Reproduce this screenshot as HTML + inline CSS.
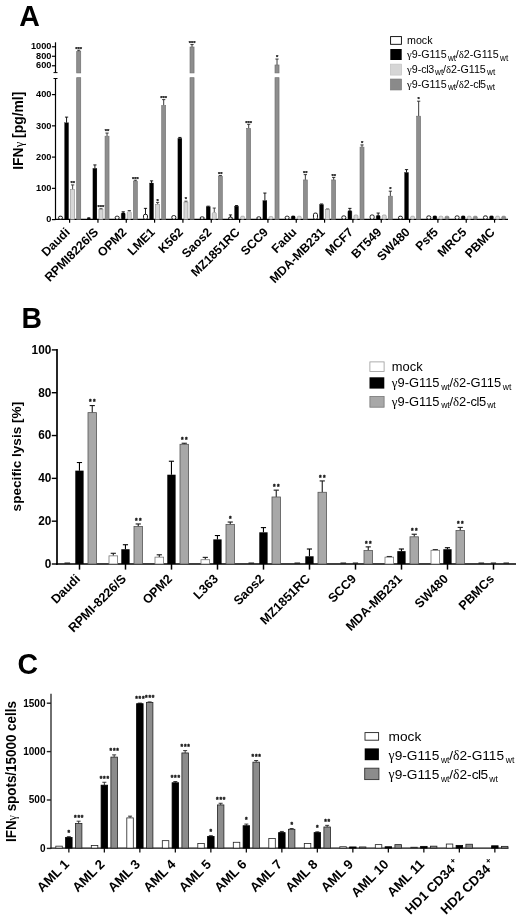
<!DOCTYPE html>
<html lang="en"><head><meta charset="utf-8"><title>Figure</title>
<style>
html,body{margin:0;padding:0;background:#fff;}
body{width:520px;height:920px;overflow:hidden;}
svg{display:block;font-family:"Liberation Sans", Arial, sans-serif;}
</style></head><body>
<svg width="520" height="920" viewBox="0 0 520 920">
<rect width="520" height="920" fill="#fff"/>
<text transform="translate(19.20,25.70) scale(0.97,1)" font-size="29.4" text-anchor="start" font-weight="bold" fill="#000" >A</text>
<text transform="translate(21.40,328.20) scale(0.97,1)" font-size="29.2" text-anchor="start" font-weight="bold" fill="#000" >B</text>
<text transform="translate(17.50,674.40) scale(0.97,1)" font-size="29.4" text-anchor="start" font-weight="bold" fill="#000" >C</text>
<line x1="55.50" y1="78.50" x2="55.50" y2="219.90" stroke="#000" stroke-width="1.2"/>
<line x1="55.50" y1="42.30" x2="55.50" y2="72.60" stroke="#000" stroke-width="1.2"/>
<line x1="53.50" y1="72.60" x2="57.50" y2="72.60" stroke="#000" stroke-width="1"/>
<line x1="53.50" y1="78.50" x2="57.50" y2="78.50" stroke="#000" stroke-width="1"/>
<line x1="54.90" y1="219.30" x2="508.00" y2="219.30" stroke="#000" stroke-width="1.2"/>
<line x1="51.90" y1="219.60" x2="55.50" y2="219.60" stroke="#000" stroke-width="1.2"/>
<text transform="translate(51.40,222.25) scale(0.97,1)" font-size="9.5" text-anchor="end" font-weight="bold" fill="#000" >0</text>
<line x1="51.90" y1="188.35" x2="55.50" y2="188.35" stroke="#000" stroke-width="1.2"/>
<text transform="translate(51.40,191.00) scale(0.97,1)" font-size="9.5" text-anchor="end" font-weight="bold" fill="#000" >100</text>
<line x1="51.90" y1="157.10" x2="55.50" y2="157.10" stroke="#000" stroke-width="1.2"/>
<text transform="translate(51.40,159.75) scale(0.97,1)" font-size="9.5" text-anchor="end" font-weight="bold" fill="#000" >200</text>
<line x1="51.90" y1="125.85" x2="55.50" y2="125.85" stroke="#000" stroke-width="1.2"/>
<text transform="translate(51.40,128.50) scale(0.97,1)" font-size="9.5" text-anchor="end" font-weight="bold" fill="#000" >300</text>
<line x1="51.90" y1="94.60" x2="55.50" y2="94.60" stroke="#000" stroke-width="1.2"/>
<text transform="translate(51.40,97.25) scale(0.97,1)" font-size="9.5" text-anchor="end" font-weight="bold" fill="#000" >400</text>
<line x1="51.90" y1="65.77" x2="55.50" y2="65.77" stroke="#000" stroke-width="1.2"/>
<text transform="translate(51.40,68.42) scale(0.97,1)" font-size="9.5" text-anchor="end" font-weight="bold" fill="#000" >600</text>
<line x1="51.90" y1="56.27" x2="55.50" y2="56.27" stroke="#000" stroke-width="1.2"/>
<text transform="translate(51.40,58.92) scale(0.97,1)" font-size="9.5" text-anchor="end" font-weight="bold" fill="#000" >800</text>
<line x1="51.90" y1="46.77" x2="55.50" y2="46.77" stroke="#000" stroke-width="1.2"/>
<text transform="translate(51.40,49.42) scale(0.97,1)" font-size="9.5" text-anchor="end" font-weight="bold" fill="#000" >1000</text>
<text transform="translate(22.60,130.70) rotate(-90)" font-size="13.9" text-anchor="middle" font-weight="bold" fill="#000" >IFN<tspan font-family='"Liberation Serif", serif' font-weight="normal" font-size="12.6">γ</tspan> [pg/ml]</text>
<line x1="69.61" y1="219.30" x2="69.61" y2="222.70" stroke="#000" stroke-width="1.2"/>
<rect x="58.50" y="216.18" width="4.0" height="3.12" rx="1.6" fill="#fff" stroke="#000" stroke-width="0.9"/>
<line x1="66.57" y1="122.74" x2="66.57" y2="117.11" stroke="#000" stroke-width="0.9"/>
<line x1="64.97" y1="117.11" x2="68.17" y2="117.11" stroke="#000" stroke-width="0.9"/>
<rect x="64.57" y="122.74" width="4.00" height="96.56" fill="#000" stroke="#000" stroke-width="0.25"/>
<line x1="72.64" y1="189.61" x2="72.64" y2="184.93" stroke="#333" stroke-width="0.9"/>
<line x1="71.04" y1="184.93" x2="74.24" y2="184.93" stroke="#333" stroke-width="0.9"/>
<rect x="70.64" y="189.61" width="4.00" height="29.69" fill="#d6d6d6" stroke="#8e8e8e" stroke-width="0.6"/>
<text transform="translate(72.64,185.23) " font-size="5.8" text-anchor="middle" font-weight="bold" fill="#111" stroke="#111" stroke-width="0.25">**</text>
<line x1="78.71" y1="51.37" x2="78.71" y2="50.23" stroke="#222" stroke-width="0.9"/>
<line x1="77.11" y1="50.23" x2="80.31" y2="50.23" stroke="#222" stroke-width="0.9"/>
<rect x="76.71" y="77.70" width="4.00" height="141.60" fill="#8e8e8e" stroke="#707070" stroke-width="0.7"/>
<rect x="76.71" y="51.37" width="4.00" height="21.53" fill="#8e8e8e" stroke="#707070" stroke-width="0.7"/>
<text transform="translate(78.71,50.53) " font-size="5.8" text-anchor="middle" font-weight="bold" fill="#111" stroke="#111" stroke-width="0.25">***</text>
<text transform="translate(70.61,232.90) rotate(-45)" font-size="12.3" text-anchor="end" font-weight="bold" fill="#000" >Daudi</text>
<line x1="97.94" y1="219.30" x2="97.94" y2="222.70" stroke="#000" stroke-width="1.2"/>
<rect x="87.03" y="217.30" width="3.6" height="2.0" rx="1.2" fill="#111"/>
<line x1="94.90" y1="168.36" x2="94.90" y2="164.93" stroke="#000" stroke-width="0.9"/>
<line x1="93.30" y1="164.93" x2="96.50" y2="164.93" stroke="#000" stroke-width="0.9"/>
<rect x="92.90" y="168.36" width="4.00" height="50.94" fill="#000" stroke="#000" stroke-width="0.25"/>
<line x1="100.97" y1="209.61" x2="100.97" y2="208.68" stroke="#333" stroke-width="0.9"/>
<line x1="99.37" y1="208.68" x2="102.57" y2="208.68" stroke="#333" stroke-width="0.9"/>
<rect x="98.97" y="209.61" width="4.00" height="9.69" fill="#d6d6d6" stroke="#8e8e8e" stroke-width="0.6"/>
<text transform="translate(100.97,208.98) " font-size="5.8" text-anchor="middle" font-weight="bold" fill="#111" stroke="#111" stroke-width="0.25">***</text>
<line x1="107.04" y1="136.18" x2="107.04" y2="133.05" stroke="#222" stroke-width="0.9"/>
<line x1="105.44" y1="133.05" x2="108.64" y2="133.05" stroke="#222" stroke-width="0.9"/>
<rect x="105.04" y="136.18" width="4.00" height="83.12" fill="#8e8e8e" stroke="#707070" stroke-width="0.6"/>
<text transform="translate(107.04,133.35) " font-size="5.8" text-anchor="middle" font-weight="bold" fill="#111" stroke="#111" stroke-width="0.25">**</text>
<text transform="translate(98.94,232.90) rotate(-45)" font-size="12.3" text-anchor="end" font-weight="bold" fill="#000" >RPMI8226/S</text>
<line x1="126.27" y1="219.30" x2="126.27" y2="222.70" stroke="#000" stroke-width="1.2"/>
<rect x="115.16" y="216.18" width="4.0" height="3.12" rx="1.6" fill="#fff" stroke="#000" stroke-width="0.9"/>
<line x1="123.23" y1="212.74" x2="123.23" y2="211.80" stroke="#000" stroke-width="0.9"/>
<line x1="121.63" y1="211.80" x2="124.83" y2="211.80" stroke="#000" stroke-width="0.9"/>
<rect x="121.23" y="212.74" width="4.0" height="6.56" rx="1.3" fill="#000" stroke="#000" stroke-width="0.25"/>
<line x1="129.30" y1="211.49" x2="129.30" y2="210.55" stroke="#333" stroke-width="0.9"/>
<line x1="127.70" y1="210.55" x2="130.90" y2="210.55" stroke="#333" stroke-width="0.9"/>
<rect x="127.30" y="211.49" width="4.0" height="7.81" rx="1.3" fill="#d6d6d6" stroke="#8e8e8e" stroke-width="0.6"/>
<line x1="135.37" y1="181.18" x2="135.37" y2="180.24" stroke="#222" stroke-width="0.9"/>
<line x1="133.77" y1="180.24" x2="136.97" y2="180.24" stroke="#222" stroke-width="0.9"/>
<rect x="133.37" y="181.18" width="4.00" height="38.12" fill="#8e8e8e" stroke="#707070" stroke-width="0.6"/>
<text transform="translate(135.37,180.54) " font-size="5.8" text-anchor="middle" font-weight="bold" fill="#111" stroke="#111" stroke-width="0.25">***</text>
<text transform="translate(127.27,232.90) rotate(-45)" font-size="12.3" text-anchor="end" font-weight="bold" fill="#000" >OPM2</text>
<line x1="154.59" y1="219.30" x2="154.59" y2="222.70" stroke="#000" stroke-width="1.2"/>
<line x1="145.49" y1="214.30" x2="145.49" y2="208.36" stroke="#000" stroke-width="0.9"/>
<line x1="143.89" y1="208.36" x2="147.09" y2="208.36" stroke="#000" stroke-width="0.9"/>
<rect x="143.49" y="214.30" width="4.0" height="5.00" rx="1.6" fill="#fff" stroke="#000" stroke-width="0.9"/>
<line x1="151.56" y1="183.05" x2="151.56" y2="180.86" stroke="#000" stroke-width="0.9"/>
<line x1="149.96" y1="180.86" x2="153.16" y2="180.86" stroke="#000" stroke-width="0.9"/>
<rect x="149.56" y="183.05" width="4.00" height="36.25" fill="#000" stroke="#000" stroke-width="0.25"/>
<line x1="157.63" y1="204.30" x2="157.63" y2="202.43" stroke="#333" stroke-width="0.9"/>
<line x1="156.03" y1="202.43" x2="159.23" y2="202.43" stroke="#333" stroke-width="0.9"/>
<rect x="155.63" y="204.30" width="4.00" height="15.00" fill="#d6d6d6" stroke="#8e8e8e" stroke-width="0.6"/>
<text transform="translate(157.63,202.73) " font-size="5.8" text-anchor="middle" font-weight="bold" fill="#111" stroke="#111" stroke-width="0.25">*</text>
<line x1="163.70" y1="105.55" x2="163.70" y2="99.61" stroke="#222" stroke-width="0.9"/>
<line x1="162.10" y1="99.61" x2="165.30" y2="99.61" stroke="#222" stroke-width="0.9"/>
<rect x="161.70" y="105.55" width="4.00" height="113.75" fill="#8e8e8e" stroke="#707070" stroke-width="0.6"/>
<text transform="translate(163.70,99.91) " font-size="5.8" text-anchor="middle" font-weight="bold" fill="#111" stroke="#111" stroke-width="0.25">***</text>
<text transform="translate(155.59,232.90) rotate(-45)" font-size="12.3" text-anchor="end" font-weight="bold" fill="#000" >LME1</text>
<line x1="182.92" y1="219.30" x2="182.92" y2="222.70" stroke="#000" stroke-width="1.2"/>
<rect x="171.82" y="215.55" width="4.0" height="3.75" rx="1.6" fill="#fff" stroke="#000" stroke-width="0.9"/>
<line x1="179.89" y1="138.36" x2="179.89" y2="137.43" stroke="#000" stroke-width="0.9"/>
<line x1="178.29" y1="137.43" x2="181.49" y2="137.43" stroke="#000" stroke-width="0.9"/>
<rect x="177.89" y="138.36" width="4.00" height="80.94" fill="#000" stroke="#000" stroke-width="0.25"/>
<line x1="185.96" y1="202.11" x2="185.96" y2="201.18" stroke="#333" stroke-width="0.9"/>
<line x1="184.36" y1="201.18" x2="187.56" y2="201.18" stroke="#333" stroke-width="0.9"/>
<rect x="183.96" y="202.11" width="4.00" height="17.19" fill="#d6d6d6" stroke="#8e8e8e" stroke-width="0.6"/>
<text transform="translate(185.96,201.48) " font-size="5.8" text-anchor="middle" font-weight="bold" fill="#111" stroke="#111" stroke-width="0.25">*</text>
<line x1="192.03" y1="47.00" x2="192.03" y2="44.57" stroke="#222" stroke-width="0.9"/>
<line x1="190.43" y1="44.57" x2="193.63" y2="44.57" stroke="#222" stroke-width="0.9"/>
<rect x="190.03" y="77.70" width="4.00" height="141.60" fill="#8e8e8e" stroke="#707070" stroke-width="0.7"/>
<rect x="190.03" y="47.00" width="4.00" height="25.90" fill="#8e8e8e" stroke="#707070" stroke-width="0.7"/>
<text transform="translate(192.03,44.87) " font-size="5.8" text-anchor="middle" font-weight="bold" fill="#111" stroke="#111" stroke-width="0.25">***</text>
<text transform="translate(183.92,232.90) rotate(-45)" font-size="12.3" text-anchor="end" font-weight="bold" fill="#000" >K562</text>
<line x1="211.25" y1="219.30" x2="211.25" y2="222.70" stroke="#000" stroke-width="1.2"/>
<rect x="200.15" y="216.80" width="4.0" height="2.50" rx="1.6" fill="#fff" stroke="#000" stroke-width="0.9"/>
<line x1="208.22" y1="206.80" x2="208.22" y2="206.18" stroke="#000" stroke-width="0.9"/>
<line x1="206.62" y1="206.18" x2="209.82" y2="206.18" stroke="#000" stroke-width="0.9"/>
<rect x="206.22" y="206.80" width="4.00" height="12.50" fill="#000" stroke="#000" stroke-width="0.25"/>
<line x1="214.29" y1="212.43" x2="214.29" y2="208.05" stroke="#333" stroke-width="0.9"/>
<line x1="212.69" y1="208.05" x2="215.89" y2="208.05" stroke="#333" stroke-width="0.9"/>
<rect x="212.29" y="212.43" width="4.0" height="6.88" rx="1.3" fill="#d6d6d6" stroke="#8e8e8e" stroke-width="0.6"/>
<line x1="220.36" y1="176.18" x2="220.36" y2="175.55" stroke="#222" stroke-width="0.9"/>
<line x1="218.76" y1="175.55" x2="221.96" y2="175.55" stroke="#222" stroke-width="0.9"/>
<rect x="218.36" y="176.18" width="4.00" height="43.12" fill="#8e8e8e" stroke="#707070" stroke-width="0.6"/>
<text transform="translate(220.36,175.85) " font-size="5.8" text-anchor="middle" font-weight="bold" fill="#111" stroke="#111" stroke-width="0.25">**</text>
<text transform="translate(212.25,232.90) rotate(-45)" font-size="12.3" text-anchor="end" font-weight="bold" fill="#000" >Saos2</text>
<line x1="239.58" y1="219.30" x2="239.58" y2="222.70" stroke="#000" stroke-width="1.2"/>
<line x1="230.48" y1="217.11" x2="230.48" y2="214.93" stroke="#000" stroke-width="0.9"/>
<line x1="228.88" y1="214.93" x2="232.08" y2="214.93" stroke="#000" stroke-width="0.9"/>
<rect x="228.48" y="217.11" width="4.0" height="2.19" rx="1.6" fill="#fff" stroke="#000" stroke-width="0.9"/>
<line x1="236.55" y1="206.18" x2="236.55" y2="205.55" stroke="#000" stroke-width="0.9"/>
<line x1="234.95" y1="205.55" x2="238.15" y2="205.55" stroke="#000" stroke-width="0.9"/>
<rect x="234.55" y="206.18" width="4.00" height="13.12" fill="#000" stroke="#000" stroke-width="0.25"/>
<rect x="240.62" y="216.18" width="4.0" height="3.12" rx="1.3" fill="#d6d6d6" stroke="#8e8e8e" stroke-width="0.6"/>
<line x1="248.69" y1="128.36" x2="248.69" y2="124.30" stroke="#222" stroke-width="0.9"/>
<line x1="247.09" y1="124.30" x2="250.29" y2="124.30" stroke="#222" stroke-width="0.9"/>
<rect x="246.69" y="128.36" width="4.00" height="90.94" fill="#8e8e8e" stroke="#707070" stroke-width="0.6"/>
<text transform="translate(248.69,124.60) " font-size="5.8" text-anchor="middle" font-weight="bold" fill="#111" stroke="#111" stroke-width="0.25">***</text>
<text transform="translate(240.58,232.90) rotate(-45)" font-size="12.3" text-anchor="end" font-weight="bold" fill="#000" >MZ1851RC</text>
<line x1="267.92" y1="219.30" x2="267.92" y2="222.70" stroke="#000" stroke-width="1.2"/>
<rect x="256.81" y="216.80" width="4.0" height="2.50" rx="1.6" fill="#fff" stroke="#000" stroke-width="0.9"/>
<line x1="264.88" y1="200.55" x2="264.88" y2="193.05" stroke="#000" stroke-width="0.9"/>
<line x1="263.28" y1="193.05" x2="266.48" y2="193.05" stroke="#000" stroke-width="0.9"/>
<rect x="262.88" y="200.55" width="4.00" height="18.75" fill="#000" stroke="#000" stroke-width="0.25"/>
<rect x="268.95" y="216.49" width="4.0" height="2.81" rx="1.3" fill="#d6d6d6" stroke="#8e8e8e" stroke-width="0.6"/>
<line x1="277.02" y1="65.00" x2="277.02" y2="59.06" stroke="#222" stroke-width="0.9"/>
<line x1="275.42" y1="59.06" x2="278.62" y2="59.06" stroke="#222" stroke-width="0.9"/>
<rect x="275.02" y="77.70" width="4.00" height="141.60" fill="#8e8e8e" stroke="#707070" stroke-width="0.7"/>
<rect x="275.02" y="65.00" width="4.00" height="7.90" fill="#8e8e8e" stroke="#707070" stroke-width="0.7"/>
<text transform="translate(277.02,59.36) " font-size="5.8" text-anchor="middle" font-weight="bold" fill="#111" stroke="#111" stroke-width="0.25">*</text>
<text transform="translate(268.92,232.90) rotate(-45)" font-size="12.3" text-anchor="end" font-weight="bold" fill="#000" >SCC9</text>
<line x1="296.25" y1="219.30" x2="296.25" y2="222.70" stroke="#000" stroke-width="1.2"/>
<rect x="285.14" y="216.18" width="4.0" height="3.12" rx="1.6" fill="#fff" stroke="#000" stroke-width="0.9"/>
<rect x="291.21" y="215.86" width="4.0" height="3.44" rx="1.3" fill="#000" stroke="#000" stroke-width="0.25"/>
<rect x="297.28" y="216.18" width="4.0" height="3.12" rx="1.3" fill="#d6d6d6" stroke="#8e8e8e" stroke-width="0.6"/>
<line x1="305.35" y1="179.93" x2="305.35" y2="174.61" stroke="#222" stroke-width="0.9"/>
<line x1="303.75" y1="174.61" x2="306.95" y2="174.61" stroke="#222" stroke-width="0.9"/>
<rect x="303.35" y="179.93" width="4.00" height="39.38" fill="#8e8e8e" stroke="#707070" stroke-width="0.6"/>
<text transform="translate(305.35,174.91) " font-size="5.8" text-anchor="middle" font-weight="bold" fill="#111" stroke="#111" stroke-width="0.25">**</text>
<text transform="translate(297.25,232.90) rotate(-45)" font-size="12.3" text-anchor="end" font-weight="bold" fill="#000" >Fadu</text>
<line x1="324.57" y1="219.30" x2="324.57" y2="222.70" stroke="#000" stroke-width="1.2"/>
<rect x="313.47" y="213.05" width="4.0" height="6.25" rx="1.6" fill="#fff" stroke="#000" stroke-width="0.9"/>
<line x1="321.54" y1="204.61" x2="321.54" y2="203.99" stroke="#000" stroke-width="0.9"/>
<line x1="319.94" y1="203.99" x2="323.14" y2="203.99" stroke="#000" stroke-width="0.9"/>
<rect x="319.54" y="204.61" width="4.00" height="14.69" fill="#000" stroke="#000" stroke-width="0.25"/>
<line x1="327.61" y1="209.61" x2="327.61" y2="208.99" stroke="#333" stroke-width="0.9"/>
<line x1="326.01" y1="208.99" x2="329.21" y2="208.99" stroke="#333" stroke-width="0.9"/>
<rect x="325.61" y="209.61" width="4.00" height="9.69" fill="#d6d6d6" stroke="#8e8e8e" stroke-width="0.6"/>
<line x1="333.68" y1="179.93" x2="333.68" y2="177.43" stroke="#222" stroke-width="0.9"/>
<line x1="332.08" y1="177.43" x2="335.28" y2="177.43" stroke="#222" stroke-width="0.9"/>
<rect x="331.68" y="179.93" width="4.00" height="39.38" fill="#8e8e8e" stroke="#707070" stroke-width="0.6"/>
<text transform="translate(333.68,177.73) " font-size="5.8" text-anchor="middle" font-weight="bold" fill="#111" stroke="#111" stroke-width="0.25">**</text>
<text transform="translate(325.57,232.90) rotate(-45)" font-size="12.3" text-anchor="end" font-weight="bold" fill="#000" >MDA-MB231</text>
<line x1="352.90" y1="219.30" x2="352.90" y2="222.70" stroke="#000" stroke-width="1.2"/>
<rect x="341.80" y="215.86" width="4.0" height="3.44" rx="1.6" fill="#fff" stroke="#000" stroke-width="0.9"/>
<line x1="349.87" y1="210.55" x2="349.87" y2="208.36" stroke="#000" stroke-width="0.9"/>
<line x1="348.27" y1="208.36" x2="351.47" y2="208.36" stroke="#000" stroke-width="0.9"/>
<rect x="347.87" y="210.55" width="4.0" height="8.75" rx="1.3" fill="#000" stroke="#000" stroke-width="0.25"/>
<rect x="353.94" y="214.93" width="4.0" height="4.38" rx="1.3" fill="#d6d6d6" stroke="#8e8e8e" stroke-width="0.6"/>
<line x1="362.01" y1="147.11" x2="362.01" y2="144.93" stroke="#222" stroke-width="0.9"/>
<line x1="360.41" y1="144.93" x2="363.61" y2="144.93" stroke="#222" stroke-width="0.9"/>
<rect x="360.01" y="147.11" width="4.00" height="72.19" fill="#8e8e8e" stroke="#707070" stroke-width="0.6"/>
<text transform="translate(362.01,145.23) " font-size="5.8" text-anchor="middle" font-weight="bold" fill="#111" stroke="#111" stroke-width="0.25">*</text>
<text transform="translate(353.90,232.90) rotate(-45)" font-size="12.3" text-anchor="end" font-weight="bold" fill="#000" >MCF7</text>
<line x1="381.24" y1="219.30" x2="381.24" y2="222.70" stroke="#000" stroke-width="1.2"/>
<rect x="370.13" y="214.93" width="4.0" height="4.38" rx="1.6" fill="#fff" stroke="#000" stroke-width="0.9"/>
<line x1="378.20" y1="215.24" x2="378.20" y2="213.05" stroke="#000" stroke-width="0.9"/>
<line x1="376.60" y1="213.05" x2="379.80" y2="213.05" stroke="#000" stroke-width="0.9"/>
<rect x="376.20" y="215.24" width="4.0" height="4.06" rx="1.3" fill="#000" stroke="#000" stroke-width="0.25"/>
<rect x="382.27" y="214.93" width="4.0" height="4.38" rx="1.3" fill="#d6d6d6" stroke="#8e8e8e" stroke-width="0.6"/>
<line x1="390.34" y1="196.18" x2="390.34" y2="191.18" stroke="#222" stroke-width="0.9"/>
<line x1="388.74" y1="191.18" x2="391.94" y2="191.18" stroke="#222" stroke-width="0.9"/>
<rect x="388.34" y="196.18" width="4.00" height="23.12" fill="#8e8e8e" stroke="#707070" stroke-width="0.6"/>
<text transform="translate(390.34,191.48) " font-size="5.8" text-anchor="middle" font-weight="bold" fill="#111" stroke="#111" stroke-width="0.25">*</text>
<text transform="translate(382.24,232.90) rotate(-45)" font-size="12.3" text-anchor="end" font-weight="bold" fill="#000" >BT549</text>
<line x1="409.56" y1="219.30" x2="409.56" y2="222.70" stroke="#000" stroke-width="1.2"/>
<rect x="398.46" y="216.18" width="4.0" height="3.12" rx="1.6" fill="#fff" stroke="#000" stroke-width="0.9"/>
<line x1="406.53" y1="172.43" x2="406.53" y2="169.61" stroke="#000" stroke-width="0.9"/>
<line x1="404.93" y1="169.61" x2="408.13" y2="169.61" stroke="#000" stroke-width="0.9"/>
<rect x="404.53" y="172.43" width="4.00" height="46.88" fill="#000" stroke="#000" stroke-width="0.25"/>
<rect x="410.60" y="216.18" width="4.0" height="3.12" rx="1.3" fill="#d6d6d6" stroke="#8e8e8e" stroke-width="0.6"/>
<line x1="418.67" y1="116.18" x2="418.67" y2="101.18" stroke="#222" stroke-width="0.9"/>
<line x1="417.07" y1="101.18" x2="420.27" y2="101.18" stroke="#222" stroke-width="0.9"/>
<rect x="416.67" y="116.18" width="4.00" height="103.12" fill="#8e8e8e" stroke="#707070" stroke-width="0.6"/>
<text transform="translate(418.67,101.48) " font-size="5.8" text-anchor="middle" font-weight="bold" fill="#111" stroke="#111" stroke-width="0.25">*</text>
<text transform="translate(410.56,232.90) rotate(-45)" font-size="12.3" text-anchor="end" font-weight="bold" fill="#000" >SW480</text>
<line x1="437.89" y1="219.30" x2="437.89" y2="222.70" stroke="#000" stroke-width="1.2"/>
<rect x="426.79" y="215.86" width="4.0" height="3.44" rx="1.6" fill="#fff" stroke="#000" stroke-width="0.9"/>
<rect x="432.86" y="215.86" width="4.0" height="3.44" rx="1.3" fill="#000" stroke="#000" stroke-width="0.25"/>
<rect x="438.93" y="216.18" width="4.0" height="3.12" rx="1.3" fill="#d6d6d6" stroke="#8e8e8e" stroke-width="0.6"/>
<rect x="445.00" y="216.18" width="4.0" height="3.12" rx="1.3" fill="#8e8e8e" stroke="#707070" stroke-width="0.6"/>
<text transform="translate(438.89,232.90) rotate(-45)" font-size="12.3" text-anchor="end" font-weight="bold" fill="#000" >Psf5</text>
<line x1="466.23" y1="219.30" x2="466.23" y2="222.70" stroke="#000" stroke-width="1.2"/>
<rect x="455.12" y="215.86" width="4.0" height="3.44" rx="1.6" fill="#fff" stroke="#000" stroke-width="0.9"/>
<rect x="461.19" y="215.86" width="4.0" height="3.44" rx="1.3" fill="#000" stroke="#000" stroke-width="0.25"/>
<rect x="467.26" y="216.18" width="4.0" height="3.12" rx="1.3" fill="#d6d6d6" stroke="#8e8e8e" stroke-width="0.6"/>
<rect x="473.33" y="216.18" width="4.0" height="3.12" rx="1.3" fill="#8e8e8e" stroke="#707070" stroke-width="0.6"/>
<text transform="translate(467.23,232.90) rotate(-45)" font-size="12.3" text-anchor="end" font-weight="bold" fill="#000" >MRC5</text>
<line x1="494.56" y1="219.30" x2="494.56" y2="222.70" stroke="#000" stroke-width="1.2"/>
<rect x="483.45" y="215.86" width="4.0" height="3.44" rx="1.6" fill="#fff" stroke="#000" stroke-width="0.9"/>
<rect x="489.52" y="215.86" width="4.0" height="3.44" rx="1.3" fill="#000" stroke="#000" stroke-width="0.25"/>
<rect x="495.59" y="216.18" width="4.0" height="3.12" rx="1.3" fill="#d6d6d6" stroke="#8e8e8e" stroke-width="0.6"/>
<rect x="501.66" y="216.18" width="4.0" height="3.12" rx="1.3" fill="#8e8e8e" stroke="#707070" stroke-width="0.6"/>
<text transform="translate(495.56,232.90) rotate(-45)" font-size="12.3" text-anchor="end" font-weight="bold" fill="#000" >PBMC</text>
<rect x="390.60" y="36.60" width="10.80" height="7.70" fill="#fff" stroke="#000" stroke-width="0.9"/>
<rect x="390.30" y="49.00" width="11.40" height="11.00" fill="#000"/>
<rect x="390.30" y="64.10" width="11.40" height="11.00" fill="#d6d6d6" stroke="#c0c0c0" stroke-width="0.6"/>
<rect x="390.30" y="79.00" width="11.40" height="11.00" fill="#8a8a8a" stroke="#7c7c7c" stroke-width="0.6"/>
<text transform="translate(407.00,43.90) " font-size="10.7" text-anchor="start" font-weight="normal" fill="#000" >mock</text>
<text transform="translate(407.00,58.40) " font-size="10.7" text-anchor="start" font-weight="normal" fill="#000" ><tspan font-family='"Liberation Serif", serif'>γ</tspan>9-G115<tspan font-size="8.2" dy="2.1" dx="1.3">wt</tspan><tspan dy="-2.1" dx="-0.3">/</tspan><tspan font-family='"Liberation Serif", serif'>δ</tspan>2-G115<tspan font-size="8.2" dy="2.1" dx="1.3">wt</tspan></text>
<text transform="translate(407.00,73.20) " font-size="10.7" text-anchor="start" font-weight="normal" fill="#000" ><tspan font-family='"Liberation Serif", serif'>γ</tspan>9-<tspan letter-spacing="-0.4">cl3</tspan><tspan font-size="8.2" dy="2.1" dx="1.3">wt</tspan><tspan dy="-2.1" dx="-0.3">/</tspan><tspan font-family='"Liberation Serif", serif'>δ</tspan>2-G115<tspan font-size="8.2" dy="2.1" dx="1.3">wt</tspan></text>
<text transform="translate(407.00,87.80) " font-size="10.7" text-anchor="start" font-weight="normal" fill="#000" ><tspan font-family='"Liberation Serif", serif'>γ</tspan>9-G115<tspan font-size="8.2" dy="2.1" dx="1.3">wt</tspan><tspan dy="-2.1" dx="-0.3">/</tspan><tspan font-family='"Liberation Serif", serif'>δ</tspan>2-<tspan letter-spacing="-0.5">cl5</tspan><tspan font-size="8.2" dy="2.1" dx="1.3">wt</tspan></text>
<line x1="57.00" y1="348.90" x2="57.00" y2="564.85" stroke="#000" stroke-width="1.7"/>
<line x1="56.15" y1="564.00" x2="516.00" y2="564.00" stroke="#000" stroke-width="1.7"/>
<line x1="51.80" y1="564.00" x2="57.00" y2="564.00" stroke="#000" stroke-width="1.4"/>
<text transform="translate(51.30,567.80) scale(0.97,1)" font-size="12.2" text-anchor="end" font-weight="bold" fill="#000" >0</text>
<line x1="51.80" y1="521.18" x2="57.00" y2="521.18" stroke="#000" stroke-width="1.4"/>
<text transform="translate(51.30,524.98) scale(0.97,1)" font-size="12.2" text-anchor="end" font-weight="bold" fill="#000" >20</text>
<line x1="51.80" y1="478.36" x2="57.00" y2="478.36" stroke="#000" stroke-width="1.4"/>
<text transform="translate(51.30,482.16) scale(0.97,1)" font-size="12.2" text-anchor="end" font-weight="bold" fill="#000" >40</text>
<line x1="51.80" y1="435.54" x2="57.00" y2="435.54" stroke="#000" stroke-width="1.4"/>
<text transform="translate(51.30,439.34) scale(0.97,1)" font-size="12.2" text-anchor="end" font-weight="bold" fill="#000" >60</text>
<line x1="51.80" y1="392.72" x2="57.00" y2="392.72" stroke="#000" stroke-width="1.4"/>
<text transform="translate(51.30,396.52) scale(0.97,1)" font-size="12.2" text-anchor="end" font-weight="bold" fill="#000" >80</text>
<line x1="51.80" y1="349.90" x2="57.00" y2="349.90" stroke="#000" stroke-width="1.4"/>
<text transform="translate(51.30,353.70) scale(0.97,1)" font-size="12.2" text-anchor="end" font-weight="bold" fill="#000" >100</text>
<text transform="translate(21.10,456.60) rotate(-90)" font-size="13.6" text-anchor="middle" font-weight="bold" fill="#000" >specific lysis [%]</text>
<line x1="79.50" y1="564.00" x2="79.50" y2="569.60" stroke="#000" stroke-width="1.5"/>
<line x1="64.50" y1="563.00" x2="70.10" y2="563.00" stroke="#000" stroke-width="0.9"/>
<line x1="79.45" y1="470.65" x2="79.45" y2="462.52" stroke="#000" stroke-width="1.1"/>
<line x1="76.85" y1="462.52" x2="82.05" y2="462.52" stroke="#000" stroke-width="1.1"/>
<rect x="75.30" y="470.65" width="8.30" height="93.35" fill="#000"/>
<line x1="92.25" y1="412.63" x2="92.25" y2="405.57" stroke="#1a1a1a" stroke-width="1.1"/>
<line x1="89.65" y1="405.57" x2="94.85" y2="405.57" stroke="#1a1a1a" stroke-width="1.1"/>
<rect x="88.00" y="412.63" width="8.50" height="151.37" fill="#a8a8a8" stroke="#555" stroke-width="0.8"/>
<text transform="translate(92.90,404.37) " font-size="6.6" text-anchor="middle" font-weight="bold" fill="#111" letter-spacing="1.3" stroke="#111" stroke-width="0.35">**</text>
<text transform="translate(80.90,579.60) rotate(-45)" font-size="12.6" text-anchor="end" font-weight="bold" fill="#000" >Daudi</text>
<line x1="125.50" y1="564.00" x2="125.50" y2="569.60" stroke="#000" stroke-width="1.5"/>
<line x1="113.30" y1="555.86" x2="113.30" y2="553.29" stroke="#1a1a1a" stroke-width="1.1"/>
<line x1="110.70" y1="553.29" x2="115.90" y2="553.29" stroke="#1a1a1a" stroke-width="1.1"/>
<rect x="109.00" y="555.86" width="8.60" height="8.14" fill="#fff" stroke="#777" stroke-width="0.8"/>
<line x1="125.45" y1="549.23" x2="125.45" y2="544.73" stroke="#000" stroke-width="1.1"/>
<line x1="122.85" y1="544.73" x2="128.05" y2="544.73" stroke="#000" stroke-width="1.1"/>
<rect x="121.30" y="549.23" width="8.30" height="14.77" fill="#000"/>
<line x1="138.25" y1="526.53" x2="138.25" y2="523.96" stroke="#1a1a1a" stroke-width="1.1"/>
<line x1="135.65" y1="523.96" x2="140.85" y2="523.96" stroke="#1a1a1a" stroke-width="1.1"/>
<rect x="134.00" y="526.53" width="8.50" height="37.47" fill="#a8a8a8" stroke="#555" stroke-width="0.8"/>
<text transform="translate(138.90,522.76) " font-size="6.6" text-anchor="middle" font-weight="bold" fill="#111" letter-spacing="1.3" stroke="#111" stroke-width="0.35">**</text>
<text transform="translate(126.90,579.60) rotate(-45)" font-size="12.6" text-anchor="end" font-weight="bold" fill="#000" >RPMI-8226/S</text>
<line x1="171.50" y1="564.00" x2="171.50" y2="569.60" stroke="#000" stroke-width="1.5"/>
<line x1="159.30" y1="557.15" x2="159.30" y2="554.79" stroke="#1a1a1a" stroke-width="1.1"/>
<line x1="156.70" y1="554.79" x2="161.90" y2="554.79" stroke="#1a1a1a" stroke-width="1.1"/>
<rect x="155.00" y="557.15" width="8.60" height="6.85" fill="#fff" stroke="#777" stroke-width="0.8"/>
<line x1="171.45" y1="474.72" x2="171.45" y2="461.23" stroke="#000" stroke-width="1.1"/>
<line x1="168.85" y1="461.23" x2="174.05" y2="461.23" stroke="#000" stroke-width="1.1"/>
<rect x="167.30" y="474.72" width="8.30" height="89.28" fill="#000"/>
<line x1="184.25" y1="444.32" x2="184.25" y2="443.25" stroke="#1a1a1a" stroke-width="1.1"/>
<line x1="181.65" y1="443.25" x2="186.85" y2="443.25" stroke="#1a1a1a" stroke-width="1.1"/>
<rect x="180.00" y="444.32" width="8.50" height="119.68" fill="#a8a8a8" stroke="#555" stroke-width="0.8"/>
<text transform="translate(184.90,442.05) " font-size="6.6" text-anchor="middle" font-weight="bold" fill="#111" letter-spacing="1.3" stroke="#111" stroke-width="0.35">**</text>
<text transform="translate(172.90,579.60) rotate(-45)" font-size="12.6" text-anchor="end" font-weight="bold" fill="#000" >OPM2</text>
<line x1="217.50" y1="564.00" x2="217.50" y2="569.60" stroke="#000" stroke-width="1.5"/>
<line x1="205.30" y1="559.72" x2="205.30" y2="557.36" stroke="#1a1a1a" stroke-width="1.1"/>
<line x1="202.70" y1="557.36" x2="207.90" y2="557.36" stroke="#1a1a1a" stroke-width="1.1"/>
<rect x="201.00" y="559.72" width="8.60" height="4.28" fill="#fff" stroke="#777" stroke-width="0.8"/>
<line x1="217.45" y1="539.38" x2="217.45" y2="535.52" stroke="#000" stroke-width="1.1"/>
<line x1="214.85" y1="535.52" x2="220.05" y2="535.52" stroke="#000" stroke-width="1.1"/>
<rect x="213.30" y="539.38" width="8.30" height="24.62" fill="#000"/>
<line x1="230.25" y1="524.39" x2="230.25" y2="522.04" stroke="#1a1a1a" stroke-width="1.1"/>
<line x1="227.65" y1="522.04" x2="232.85" y2="522.04" stroke="#1a1a1a" stroke-width="1.1"/>
<rect x="226.00" y="524.39" width="8.50" height="39.61" fill="#a8a8a8" stroke="#555" stroke-width="0.8"/>
<text transform="translate(230.90,520.84) " font-size="6.6" text-anchor="middle" font-weight="bold" fill="#111" letter-spacing="1.3" stroke="#111" stroke-width="0.35">*</text>
<text transform="translate(218.90,579.60) rotate(-45)" font-size="12.6" text-anchor="end" font-weight="bold" fill="#000" >L363</text>
<line x1="263.50" y1="564.00" x2="263.50" y2="569.60" stroke="#000" stroke-width="1.5"/>
<line x1="248.50" y1="563.00" x2="254.10" y2="563.00" stroke="#000" stroke-width="0.9"/>
<line x1="263.45" y1="532.31" x2="263.45" y2="527.60" stroke="#000" stroke-width="1.1"/>
<line x1="260.85" y1="527.60" x2="266.05" y2="527.60" stroke="#000" stroke-width="1.1"/>
<rect x="259.30" y="532.31" width="8.30" height="31.69" fill="#000"/>
<line x1="276.25" y1="496.99" x2="276.25" y2="490.14" stroke="#1a1a1a" stroke-width="1.1"/>
<line x1="273.65" y1="490.14" x2="278.85" y2="490.14" stroke="#1a1a1a" stroke-width="1.1"/>
<rect x="272.00" y="496.99" width="8.50" height="67.01" fill="#a8a8a8" stroke="#555" stroke-width="0.8"/>
<text transform="translate(276.90,488.94) " font-size="6.6" text-anchor="middle" font-weight="bold" fill="#111" letter-spacing="1.3" stroke="#111" stroke-width="0.35">**</text>
<text transform="translate(264.90,579.60) rotate(-45)" font-size="12.6" text-anchor="end" font-weight="bold" fill="#000" >Saos2</text>
<line x1="309.50" y1="564.00" x2="309.50" y2="569.60" stroke="#000" stroke-width="1.5"/>
<line x1="294.50" y1="563.00" x2="300.10" y2="563.00" stroke="#000" stroke-width="0.9"/>
<line x1="309.45" y1="556.29" x2="309.45" y2="549.01" stroke="#000" stroke-width="1.1"/>
<line x1="306.85" y1="549.01" x2="312.05" y2="549.01" stroke="#000" stroke-width="1.1"/>
<rect x="305.30" y="556.29" width="8.30" height="7.71" fill="#000"/>
<line x1="322.25" y1="492.28" x2="322.25" y2="480.93" stroke="#1a1a1a" stroke-width="1.1"/>
<line x1="319.65" y1="480.93" x2="324.85" y2="480.93" stroke="#1a1a1a" stroke-width="1.1"/>
<rect x="318.00" y="492.28" width="8.50" height="71.72" fill="#a8a8a8" stroke="#555" stroke-width="0.8"/>
<text transform="translate(322.90,479.73) " font-size="6.6" text-anchor="middle" font-weight="bold" fill="#111" letter-spacing="1.3" stroke="#111" stroke-width="0.35">**</text>
<text transform="translate(310.90,579.60) rotate(-45)" font-size="12.6" text-anchor="end" font-weight="bold" fill="#000" >MZ1851RC</text>
<line x1="355.50" y1="564.00" x2="355.50" y2="569.60" stroke="#000" stroke-width="1.5"/>
<line x1="340.50" y1="563.00" x2="346.10" y2="563.00" stroke="#000" stroke-width="0.9"/>
<line x1="352.80" y1="563.00" x2="358.10" y2="563.00" stroke="#000" stroke-width="0.9"/>
<line x1="368.25" y1="550.51" x2="368.25" y2="546.87" stroke="#1a1a1a" stroke-width="1.1"/>
<line x1="365.65" y1="546.87" x2="370.85" y2="546.87" stroke="#1a1a1a" stroke-width="1.1"/>
<rect x="364.00" y="550.51" width="8.50" height="13.49" fill="#a8a8a8" stroke="#555" stroke-width="0.8"/>
<text transform="translate(368.90,545.67) " font-size="6.6" text-anchor="middle" font-weight="bold" fill="#111" letter-spacing="1.3" stroke="#111" stroke-width="0.35">**</text>
<text transform="translate(356.90,579.60) rotate(-45)" font-size="12.6" text-anchor="end" font-weight="bold" fill="#000" >SCC9</text>
<line x1="401.50" y1="564.00" x2="401.50" y2="569.60" stroke="#000" stroke-width="1.5"/>
<line x1="389.30" y1="557.15" x2="389.30" y2="556.51" stroke="#1a1a1a" stroke-width="1.1"/>
<line x1="386.70" y1="556.51" x2="391.90" y2="556.51" stroke="#1a1a1a" stroke-width="1.1"/>
<rect x="385.00" y="557.15" width="8.60" height="6.85" fill="#fff" stroke="#777" stroke-width="0.8"/>
<line x1="401.45" y1="551.15" x2="401.45" y2="549.01" stroke="#000" stroke-width="1.1"/>
<line x1="398.85" y1="549.01" x2="404.05" y2="549.01" stroke="#000" stroke-width="1.1"/>
<rect x="397.30" y="551.15" width="8.30" height="12.85" fill="#000"/>
<line x1="414.25" y1="536.81" x2="414.25" y2="534.24" stroke="#1a1a1a" stroke-width="1.1"/>
<line x1="411.65" y1="534.24" x2="416.85" y2="534.24" stroke="#1a1a1a" stroke-width="1.1"/>
<rect x="410.00" y="536.81" width="8.50" height="27.19" fill="#a8a8a8" stroke="#555" stroke-width="0.8"/>
<text transform="translate(414.90,533.04) " font-size="6.6" text-anchor="middle" font-weight="bold" fill="#111" letter-spacing="1.3" stroke="#111" stroke-width="0.35">**</text>
<text transform="translate(402.90,579.60) rotate(-45)" font-size="12.6" text-anchor="end" font-weight="bold" fill="#000" >MDA-MB231</text>
<line x1="447.50" y1="564.00" x2="447.50" y2="569.60" stroke="#000" stroke-width="1.5"/>
<line x1="435.30" y1="550.30" x2="435.30" y2="549.66" stroke="#1a1a1a" stroke-width="1.1"/>
<line x1="432.70" y1="549.66" x2="437.90" y2="549.66" stroke="#1a1a1a" stroke-width="1.1"/>
<rect x="431.00" y="550.30" width="8.60" height="13.70" fill="#fff" stroke="#777" stroke-width="0.8"/>
<line x1="447.45" y1="549.23" x2="447.45" y2="547.73" stroke="#000" stroke-width="1.1"/>
<line x1="444.85" y1="547.73" x2="450.05" y2="547.73" stroke="#000" stroke-width="1.1"/>
<rect x="443.30" y="549.23" width="8.30" height="14.77" fill="#000"/>
<line x1="460.25" y1="530.60" x2="460.25" y2="527.39" stroke="#1a1a1a" stroke-width="1.1"/>
<line x1="457.65" y1="527.39" x2="462.85" y2="527.39" stroke="#1a1a1a" stroke-width="1.1"/>
<rect x="456.00" y="530.60" width="8.50" height="33.40" fill="#a8a8a8" stroke="#555" stroke-width="0.8"/>
<text transform="translate(460.90,526.19) " font-size="6.6" text-anchor="middle" font-weight="bold" fill="#111" letter-spacing="1.3" stroke="#111" stroke-width="0.35">**</text>
<text transform="translate(448.90,579.60) rotate(-45)" font-size="12.6" text-anchor="end" font-weight="bold" fill="#000" >SW480</text>
<line x1="493.50" y1="564.00" x2="493.50" y2="569.60" stroke="#000" stroke-width="1.5"/>
<line x1="478.50" y1="563.00" x2="484.10" y2="563.00" stroke="#000" stroke-width="0.9"/>
<line x1="490.80" y1="563.00" x2="496.10" y2="563.00" stroke="#000" stroke-width="0.9"/>
<line x1="503.50" y1="563.00" x2="509.00" y2="563.00" stroke="#000" stroke-width="0.9"/>
<text transform="translate(494.90,579.60) rotate(-45)" font-size="12.6" text-anchor="end" font-weight="bold" fill="#000" >PBMCs</text>
<rect x="369.90" y="361.90" width="14.20" height="9.50" fill="#fff" stroke="#999" stroke-width="0.8"/>
<rect x="369.50" y="377.30" width="14.80" height="11.30" fill="#000"/>
<rect x="369.90" y="396.40" width="14.20" height="10.80" fill="#a8a8a8" stroke="#777" stroke-width="0.8"/>
<text transform="translate(391.80,371.00) " font-size="12.9" text-anchor="start" font-weight="normal" fill="#000" >mock</text>
<text transform="translate(391.80,387.40) " font-size="12.9" text-anchor="start" font-weight="normal" fill="#000" ><tspan font-family='"Liberation Serif", serif'>γ</tspan>9-G115<tspan font-size="8.6" dy="2.5" dx="1.6">wt</tspan><tspan dy="-2.5" dx="-0.3">/</tspan><tspan font-family='"Liberation Serif", serif'>δ</tspan>2-G115<tspan font-size="8.6" dy="2.5" dx="1.6">wt</tspan></text>
<text transform="translate(391.80,405.80) " font-size="12.9" text-anchor="start" font-weight="normal" fill="#000" ><tspan font-family='"Liberation Serif", serif'>γ</tspan>9-G115<tspan font-size="8.6" dy="2.5" dx="1.6">wt</tspan><tspan dy="-2.5" dx="-0.3">/</tspan><tspan font-family='"Liberation Serif", serif'>δ</tspan>2-<tspan letter-spacing="-0.5">cl5</tspan><tspan font-size="8.6" dy="2.5" dx="1.6">wt</tspan></text>
<line x1="51.00" y1="693.70" x2="51.00" y2="848.70" stroke="#222" stroke-width="1.3"/>
<line x1="50.40" y1="848.10" x2="508.50" y2="848.10" stroke="#111" stroke-width="1.3"/>
<line x1="46.80" y1="848.40" x2="51.00" y2="848.40" stroke="#222" stroke-width="1.4"/>
<text transform="translate(45.50,851.80) " font-size="10.0" text-anchor="end" font-weight="bold" fill="#000" >0</text>
<line x1="46.80" y1="800.00" x2="51.00" y2="800.00" stroke="#222" stroke-width="1.4"/>
<text transform="translate(45.50,803.40) " font-size="10.0" text-anchor="end" font-weight="bold" fill="#000" >500</text>
<line x1="46.80" y1="751.60" x2="51.00" y2="751.60" stroke="#222" stroke-width="1.4"/>
<text transform="translate(45.50,755.00) " font-size="10.0" text-anchor="end" font-weight="bold" fill="#000" >1000</text>
<line x1="46.80" y1="703.20" x2="51.00" y2="703.20" stroke="#222" stroke-width="1.4"/>
<text transform="translate(45.50,706.60) " font-size="10.0" text-anchor="end" font-weight="bold" fill="#000" >1500</text>
<text transform="translate(15.90,771.60) rotate(-90) scale(1,1.08)" font-size="13.4" text-anchor="middle" font-weight="bold" fill="#000" >IFN<tspan font-family='"Liberation Serif", serif' font-weight="normal" font-size="12.2">γ</tspan> spots/15000 cells</text>
<line x1="68.85" y1="848.10" x2="68.85" y2="852.40" stroke="#111" stroke-width="1.3"/>
<rect x="55.80" y="846.16" width="6.50" height="1.94" fill="#fff" stroke="#222" stroke-width="0.8"/>
<line x1="68.85" y1="837.45" x2="68.85" y2="836.68" stroke="#222" stroke-width="0.9"/>
<line x1="66.85" y1="836.68" x2="70.85" y2="836.68" stroke="#222" stroke-width="0.9"/>
<rect x="65.60" y="837.45" width="6.50" height="10.65" fill="#000" stroke="#000" stroke-width="0.8"/>
<text transform="translate(69.25,835.08) " font-size="6.6" text-anchor="middle" font-weight="bold" fill="#111" letter-spacing="0.75" stroke="#111" stroke-width="0.35">*</text>
<line x1="78.65" y1="823.42" x2="78.65" y2="821.19" stroke="#222" stroke-width="0.9"/>
<line x1="76.65" y1="821.19" x2="80.65" y2="821.19" stroke="#222" stroke-width="0.9"/>
<rect x="75.40" y="823.42" width="6.50" height="24.68" fill="#8c8c8c" stroke="#222" stroke-width="0.8"/>
<text transform="translate(79.05,819.59) " font-size="6.6" text-anchor="middle" font-weight="bold" fill="#111" letter-spacing="0.75" stroke="#111" stroke-width="0.35">***</text>
<text transform="translate(70.00,865.05) rotate(-45)" font-size="13.2" text-anchor="end" font-weight="bold" fill="#000" >AML 1</text>
<line x1="104.35" y1="848.10" x2="104.35" y2="852.40" stroke="#111" stroke-width="1.3"/>
<rect x="91.30" y="845.49" width="6.50" height="2.61" fill="#fff" stroke="#222" stroke-width="0.8"/>
<line x1="104.35" y1="785.18" x2="104.35" y2="782.28" stroke="#222" stroke-width="0.9"/>
<line x1="102.35" y1="782.28" x2="106.35" y2="782.28" stroke="#222" stroke-width="0.9"/>
<rect x="101.10" y="785.18" width="6.50" height="62.92" fill="#000" stroke="#000" stroke-width="0.8"/>
<text transform="translate(104.75,780.68) " font-size="6.6" text-anchor="middle" font-weight="bold" fill="#111" letter-spacing="0.75" stroke="#111" stroke-width="0.35">***</text>
<line x1="114.15" y1="757.11" x2="114.15" y2="754.88" stroke="#222" stroke-width="0.9"/>
<line x1="112.15" y1="754.88" x2="116.15" y2="754.88" stroke="#222" stroke-width="0.9"/>
<rect x="110.90" y="757.11" width="6.50" height="90.99" fill="#8c8c8c" stroke="#222" stroke-width="0.8"/>
<text transform="translate(114.55,753.28) " font-size="6.6" text-anchor="middle" font-weight="bold" fill="#111" letter-spacing="0.75" stroke="#111" stroke-width="0.35">***</text>
<text transform="translate(105.50,865.05) rotate(-45)" font-size="13.2" text-anchor="end" font-weight="bold" fill="#000" >AML 2</text>
<line x1="139.85" y1="848.10" x2="139.85" y2="852.40" stroke="#111" stroke-width="1.3"/>
<line x1="130.05" y1="817.90" x2="130.05" y2="816.16" stroke="#222" stroke-width="0.9"/>
<line x1="128.05" y1="816.16" x2="132.05" y2="816.16" stroke="#222" stroke-width="0.9"/>
<rect x="126.80" y="817.90" width="6.50" height="30.20" fill="#fff" stroke="#222" stroke-width="0.8"/>
<line x1="139.85" y1="703.67" x2="139.85" y2="703.09" stroke="#222" stroke-width="0.9"/>
<line x1="137.85" y1="703.09" x2="141.85" y2="703.09" stroke="#222" stroke-width="0.9"/>
<rect x="136.60" y="703.67" width="6.50" height="144.43" fill="#000" stroke="#000" stroke-width="0.8"/>
<text transform="translate(140.25,701.49) " font-size="6.6" text-anchor="middle" font-weight="bold" fill="#111" letter-spacing="0.75" stroke="#111" stroke-width="0.35">***</text>
<line x1="149.65" y1="702.42" x2="149.65" y2="701.93" stroke="#222" stroke-width="0.9"/>
<line x1="147.65" y1="701.93" x2="151.65" y2="701.93" stroke="#222" stroke-width="0.9"/>
<rect x="146.40" y="702.42" width="6.50" height="145.68" fill="#8c8c8c" stroke="#222" stroke-width="0.8"/>
<text transform="translate(150.05,700.33) " font-size="6.6" text-anchor="middle" font-weight="bold" fill="#111" letter-spacing="0.75" stroke="#111" stroke-width="0.35">***</text>
<text transform="translate(141.00,865.05) rotate(-45)" font-size="13.2" text-anchor="end" font-weight="bold" fill="#000" >AML 3</text>
<line x1="175.35" y1="848.10" x2="175.35" y2="852.40" stroke="#111" stroke-width="1.3"/>
<rect x="162.30" y="840.65" width="6.50" height="7.45" fill="#fff" stroke="#222" stroke-width="0.8"/>
<line x1="175.35" y1="782.76" x2="175.35" y2="781.50" stroke="#222" stroke-width="0.9"/>
<line x1="173.35" y1="781.50" x2="177.35" y2="781.50" stroke="#222" stroke-width="0.9"/>
<rect x="172.10" y="782.76" width="6.50" height="65.34" fill="#000" stroke="#000" stroke-width="0.8"/>
<text transform="translate(175.75,779.90) " font-size="6.6" text-anchor="middle" font-weight="bold" fill="#111" letter-spacing="0.75" stroke="#111" stroke-width="0.35">***</text>
<line x1="185.15" y1="752.95" x2="185.15" y2="750.62" stroke="#222" stroke-width="0.9"/>
<line x1="183.15" y1="750.62" x2="187.15" y2="750.62" stroke="#222" stroke-width="0.9"/>
<rect x="181.90" y="752.95" width="6.50" height="95.15" fill="#8c8c8c" stroke="#222" stroke-width="0.8"/>
<text transform="translate(185.55,749.02) " font-size="6.6" text-anchor="middle" font-weight="bold" fill="#111" letter-spacing="0.75" stroke="#111" stroke-width="0.35">***</text>
<text transform="translate(176.50,865.05) rotate(-45)" font-size="13.2" text-anchor="end" font-weight="bold" fill="#000" >AML 4</text>
<line x1="210.85" y1="848.10" x2="210.85" y2="852.40" stroke="#111" stroke-width="1.3"/>
<rect x="197.80" y="843.55" width="6.50" height="4.55" fill="#fff" stroke="#222" stroke-width="0.8"/>
<line x1="210.85" y1="836.39" x2="210.85" y2="835.71" stroke="#222" stroke-width="0.9"/>
<line x1="208.85" y1="835.71" x2="212.85" y2="835.71" stroke="#222" stroke-width="0.9"/>
<rect x="207.60" y="836.39" width="6.50" height="11.71" fill="#000" stroke="#000" stroke-width="0.8"/>
<text transform="translate(211.25,834.11) " font-size="6.6" text-anchor="middle" font-weight="bold" fill="#111" letter-spacing="0.75" stroke="#111" stroke-width="0.35">*</text>
<line x1="220.65" y1="804.93" x2="220.65" y2="803.28" stroke="#222" stroke-width="0.9"/>
<line x1="218.65" y1="803.28" x2="222.65" y2="803.28" stroke="#222" stroke-width="0.9"/>
<rect x="217.40" y="804.93" width="6.50" height="43.17" fill="#8c8c8c" stroke="#222" stroke-width="0.8"/>
<text transform="translate(221.05,801.68) " font-size="6.6" text-anchor="middle" font-weight="bold" fill="#111" letter-spacing="0.75" stroke="#111" stroke-width="0.35">***</text>
<text transform="translate(212.00,865.05) rotate(-45)" font-size="13.2" text-anchor="end" font-weight="bold" fill="#000" >AML 5</text>
<line x1="246.35" y1="848.10" x2="246.35" y2="852.40" stroke="#111" stroke-width="1.3"/>
<rect x="233.30" y="842.29" width="6.50" height="5.81" fill="#fff" stroke="#222" stroke-width="0.8"/>
<line x1="246.35" y1="825.74" x2="246.35" y2="824.09" stroke="#222" stroke-width="0.9"/>
<line x1="244.35" y1="824.09" x2="248.35" y2="824.09" stroke="#222" stroke-width="0.9"/>
<rect x="243.10" y="825.74" width="6.50" height="22.36" fill="#000" stroke="#000" stroke-width="0.8"/>
<text transform="translate(246.75,822.49) " font-size="6.6" text-anchor="middle" font-weight="bold" fill="#111" letter-spacing="0.75" stroke="#111" stroke-width="0.35">*</text>
<line x1="256.15" y1="762.14" x2="256.15" y2="760.50" stroke="#222" stroke-width="0.9"/>
<line x1="254.15" y1="760.50" x2="258.15" y2="760.50" stroke="#222" stroke-width="0.9"/>
<rect x="252.90" y="762.14" width="6.50" height="85.96" fill="#8c8c8c" stroke="#222" stroke-width="0.8"/>
<text transform="translate(256.55,758.90) " font-size="6.6" text-anchor="middle" font-weight="bold" fill="#111" letter-spacing="0.75" stroke="#111" stroke-width="0.35">***</text>
<text transform="translate(247.50,865.05) rotate(-45)" font-size="13.2" text-anchor="end" font-weight="bold" fill="#000" >AML 6</text>
<line x1="281.85" y1="848.10" x2="281.85" y2="852.40" stroke="#111" stroke-width="1.3"/>
<rect x="268.80" y="838.42" width="6.50" height="9.68" fill="#fff" stroke="#222" stroke-width="0.8"/>
<line x1="281.85" y1="832.61" x2="281.85" y2="831.45" stroke="#222" stroke-width="0.9"/>
<line x1="279.85" y1="831.45" x2="283.85" y2="831.45" stroke="#222" stroke-width="0.9"/>
<rect x="278.60" y="832.61" width="6.50" height="15.49" fill="#000" stroke="#000" stroke-width="0.8"/>
<line x1="291.65" y1="829.32" x2="291.65" y2="828.55" stroke="#222" stroke-width="0.9"/>
<line x1="289.65" y1="828.55" x2="293.65" y2="828.55" stroke="#222" stroke-width="0.9"/>
<rect x="288.40" y="829.32" width="6.50" height="18.78" fill="#8c8c8c" stroke="#222" stroke-width="0.8"/>
<text transform="translate(292.05,826.95) " font-size="6.6" text-anchor="middle" font-weight="bold" fill="#111" letter-spacing="0.75" stroke="#111" stroke-width="0.35">*</text>
<text transform="translate(283.00,865.05) rotate(-45)" font-size="13.2" text-anchor="end" font-weight="bold" fill="#000" >AML 7</text>
<line x1="317.35" y1="848.10" x2="317.35" y2="852.40" stroke="#111" stroke-width="1.3"/>
<rect x="304.30" y="843.55" width="6.50" height="4.55" fill="#fff" stroke="#222" stroke-width="0.8"/>
<line x1="317.35" y1="832.61" x2="317.35" y2="831.84" stroke="#222" stroke-width="0.9"/>
<line x1="315.35" y1="831.84" x2="319.35" y2="831.84" stroke="#222" stroke-width="0.9"/>
<rect x="314.10" y="832.61" width="6.50" height="15.49" fill="#000" stroke="#000" stroke-width="0.8"/>
<text transform="translate(317.75,830.24) " font-size="6.6" text-anchor="middle" font-weight="bold" fill="#111" letter-spacing="0.75" stroke="#111" stroke-width="0.35">*</text>
<line x1="327.15" y1="827.00" x2="327.15" y2="825.35" stroke="#222" stroke-width="0.9"/>
<line x1="325.15" y1="825.35" x2="329.15" y2="825.35" stroke="#222" stroke-width="0.9"/>
<rect x="323.90" y="827.00" width="6.50" height="21.10" fill="#8c8c8c" stroke="#222" stroke-width="0.8"/>
<text transform="translate(327.55,823.75) " font-size="6.6" text-anchor="middle" font-weight="bold" fill="#111" letter-spacing="0.75" stroke="#111" stroke-width="0.35">**</text>
<text transform="translate(318.50,865.05) rotate(-45)" font-size="13.2" text-anchor="end" font-weight="bold" fill="#000" >AML 8</text>
<line x1="352.85" y1="848.10" x2="352.85" y2="852.40" stroke="#111" stroke-width="1.3"/>
<rect x="339.80" y="846.74" width="6.50" height="1.36" fill="#fff" stroke="#222" stroke-width="0.8"/>
<rect x="349.60" y="846.94" width="6.50" height="1.16" fill="#000" stroke="#000" stroke-width="0.8"/>
<rect x="359.40" y="846.94" width="6.50" height="1.16" fill="#8c8c8c" stroke="#222" stroke-width="0.8"/>
<text transform="translate(354.00,865.05) rotate(-45)" font-size="13.2" text-anchor="end" font-weight="bold" fill="#000" >AML 9</text>
<line x1="388.35" y1="848.10" x2="388.35" y2="852.40" stroke="#111" stroke-width="1.3"/>
<rect x="375.30" y="844.62" width="6.50" height="3.48" fill="#fff" stroke="#222" stroke-width="0.8"/>
<rect x="385.10" y="846.74" width="6.50" height="1.36" fill="#000" stroke="#000" stroke-width="0.8"/>
<rect x="394.90" y="844.62" width="6.50" height="3.48" fill="#8c8c8c" stroke="#222" stroke-width="0.8"/>
<text transform="translate(389.50,865.05) rotate(-45)" font-size="13.2" text-anchor="end" font-weight="bold" fill="#000" >AML 10</text>
<line x1="423.85" y1="848.10" x2="423.85" y2="852.40" stroke="#111" stroke-width="1.3"/>
<rect x="410.80" y="847.23" width="6.50" height="0.87" fill="#fff" stroke="#222" stroke-width="0.8"/>
<rect x="420.60" y="846.36" width="6.50" height="1.74" fill="#000" stroke="#000" stroke-width="0.8"/>
<rect x="430.40" y="846.16" width="6.50" height="1.94" fill="#8c8c8c" stroke="#222" stroke-width="0.8"/>
<text transform="translate(425.00,865.05) rotate(-45)" font-size="13.2" text-anchor="end" font-weight="bold" fill="#000" >AML 11</text>
<line x1="459.35" y1="848.10" x2="459.35" y2="852.40" stroke="#111" stroke-width="1.3"/>
<rect x="446.30" y="844.03" width="6.50" height="4.07" fill="#fff" stroke="#222" stroke-width="0.8"/>
<rect x="456.10" y="845.39" width="6.50" height="2.71" fill="#000" stroke="#000" stroke-width="0.8"/>
<rect x="465.90" y="844.23" width="6.50" height="3.87" fill="#8c8c8c" stroke="#222" stroke-width="0.8"/>
<text transform="translate(460.50,865.05) rotate(-45)" font-size="13.2" text-anchor="end" font-weight="bold" fill="#000" >HD1 CD34<tspan font-size="8.5" dy="-5.6" dx="2.0">+</tspan></text>
<line x1="494.85" y1="848.10" x2="494.85" y2="852.40" stroke="#111" stroke-width="1.3"/>
<rect x="491.60" y="845.78" width="6.50" height="2.32" fill="#000" stroke="#000" stroke-width="0.8"/>
<rect x="501.40" y="846.36" width="6.50" height="1.74" fill="#8c8c8c" stroke="#222" stroke-width="0.8"/>
<text transform="translate(496.00,865.05) rotate(-45)" font-size="13.2" text-anchor="end" font-weight="bold" fill="#000" >HD2 CD34<tspan font-size="8.5" dy="-5.6" dx="2.0">+</tspan></text>
<rect x="365.00" y="732.60" width="13.60" height="7.60" fill="#fff" stroke="#222" stroke-width="0.9"/>
<rect x="364.70" y="748.40" width="14.20" height="11.80" fill="#000"/>
<rect x="364.70" y="768.20" width="14.20" height="11.40" fill="#8c8c8c" stroke="#333" stroke-width="0.9"/>
<text transform="translate(388.60,740.50) " font-size="13.7" text-anchor="start" font-weight="normal" fill="#000" >mock</text>
<text transform="translate(388.60,760.30) " font-size="13.7" text-anchor="start" font-weight="normal" fill="#000" ><tspan font-family='"Liberation Serif", serif'>γ</tspan>9-G115<tspan font-size="8.6" dy="2.4" dx="1.6">wt</tspan><tspan dy="-2.4" dx="-0.3">/</tspan><tspan font-family='"Liberation Serif", serif'>δ</tspan>2-G115<tspan font-size="8.6" dy="2.4" dx="1.6">wt</tspan></text>
<text transform="translate(388.60,779.20) " font-size="13.7" text-anchor="start" font-weight="normal" fill="#000" ><tspan font-family='"Liberation Serif", serif'>γ</tspan>9-G115<tspan font-size="8.6" dy="2.4" dx="1.6">wt</tspan><tspan dy="-2.4" dx="-0.3">/</tspan><tspan font-family='"Liberation Serif", serif'>δ</tspan>2-<tspan letter-spacing="-0.5">cl5</tspan><tspan font-size="8.6" dy="2.4" dx="1.6">wt</tspan></text>
</svg>
</body></html>
